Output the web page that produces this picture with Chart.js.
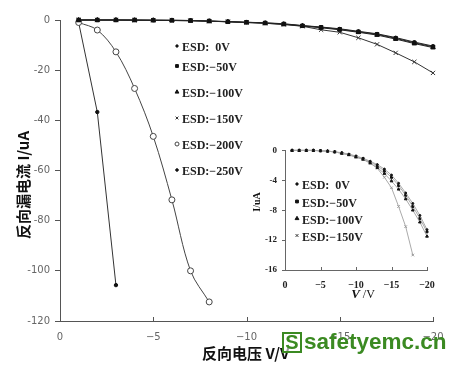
<!DOCTYPE html>
<html>
<head>
<meta charset="utf-8">
<script src="https://cdn.jsdelivr.net/npm/chart.js@4.4.0/dist/chart.umd.min.js"></script>
<style>
  body { margin: 0; background: #fff; }
  #wrap { position: relative; width: 458px; height: 366px; overflow: hidden; }
  #main { position: absolute; left: 0; top: 0; }
  #inset { position: absolute; left: 240px; top: 140px; }
  #markBox { position: absolute; left: 282px; top: 332px; width: 16px; height: 17px;
    border: 2.5px solid #3b8a22; color: #3b8a22; font: bold 20px "Liberation Sans", Arial, sans-serif;
    line-height: 17px; text-align: center; background: rgba(255,255,255,0.6); }
  #markText { position: absolute; left: 304px; top: 331px; color: #3b8a22;
    font: bold 22.5px "Liberation Sans", Arial, sans-serif; line-height: 22.5px; white-space: nowrap; }
</style>
</head>
<body>
<div id="wrap">
  <canvas id="main" width="458" height="366"></canvas>
  <canvas id="inset" width="205" height="165"></canvas>
  <div id="markBox">S</div>
  <div id="markText">safetyemc.cn</div>
</div>
<script>
// reverse voltage (V), one point per volt
const voltage = [-1, -2, -3, -4, -5, -6, -7, -8, -9, -10, -11, -12, -13, -14, -15, -16, -17, -18, -19, -20];

// main chart, leakage current (uA)
const esd0 = [0, 0, 0, 0, -0.1, -0.1, -0.2, -0.4, -0.6, -0.9, -1.1, -1.5, -2.2, -2.8, -3.5, -4.5, -5.5, -7.0, -8.8, -10.4];
const esd50 = [0, 0, 0, 0, -0.1, -0.1, -0.2, -0.4, -0.7, -0.9, -1.2, -1.6, -2.3, -2.9, -3.7, -4.7, -5.7, -7.3, -9.1, -10.7];
const esd100 = [0, 0, 0, -0.1, -0.1, -0.2, -0.3, -0.5, -0.7, -1.0, -1.3, -1.7, -2.4, -3.1, -3.9, -4.9, -6.0, -7.6, -9.4, -11.0];
const esd150 = [0, 0, 0, -0.1, -0.1, -0.2, -0.3, -0.5, -0.7, -1.0, -1.3, -1.8, -2.5, -3.9, -4.9, -7.1, -9.7, -13.1, -16.7, -21.1];
const esd200 = [-1.0, -4.0, -12.7, -27.3, -46.4, -71.7, -100, -112.4];
const esd250 = [-1.0, -36.7, -105.7];

// inset chart, zoomed view of the first four curves
const inset0 = [0, 0, 0, 0, -0.05, -0.1, -0.2, -0.3, -0.5, -0.75, -1.05, -1.45, -1.9, -2.5, -3.3, -4.4, -5.7, -7.1, -8.7, -10.6];
const inset50 = [0, 0, 0, 0, -0.05, -0.1, -0.2, -0.35, -0.55, -0.8, -1.1, -1.55, -2.05, -2.75, -3.6, -4.7, -6.0, -7.5, -9.1, -10.9];
const inset100 = [0, 0, 0, 0, -0.05, -0.1, -0.2, -0.4, -0.6, -0.9, -1.2, -1.7, -2.3, -3.1, -4.1, -5.2, -6.5, -8.0, -9.6, -11.5];
const inset150 = [0, 0, 0, 0, -0.05, -0.1, -0.2, -0.4, -0.6, -0.9, -1.2, -1.7, -2.4, -3.6, -5.0, -7.5, -10.2, -14.0];

const esdLabels = ['ESD:  0V', 'ESD:\u221250V', 'ESD:\u2212100V', 'ESD:\u2212150V', 'ESD:\u2212200V', 'ESD:\u2212250V'];

const mainXTicks = [0, -5, -10, -15, -20];
const mainYTicks = [0, -20, -40, -60, -80, -100, -120];
const insetXTicks = [0, -5, -10, -15, -20];
const insetYTicks = [0, -4, -8, -12, -16];

function pts(values) {
  return values.map((v, i) => ({ x: voltage[i], y: v }));
}

const minusLabel = v => (v === 0 ? '0' : '\u2212' + Math.abs(v));

// marker look for each series
const markers = [
  { pointStyle: 'circle', radius: 1.5, fill: '#111', border: '#111' },
  { pointStyle: 'rect', radius: 2.5, fill: '#111', border: '#111' },
  { pointStyle: 'triangle', radius: 2.6, fill: '#111', border: '#111' },
  { pointStyle: 'crossRot', radius: 3, fill: '#333', border: '#333' },
  { pointStyle: 'circle', radius: 3, fill: '#fff', border: '#444' },
  { pointStyle: 'circle', radius: 1.7, fill: '#111', border: '#111' }
];

function series(values, i, lineColor, extra) {
  const m = markers[i];
  return Object.assign({
    label: esdLabels[i],
    data: pts(values),
    showLine: true,
    borderColor: lineColor,
    borderWidth: 1,
    pointStyle: m.pointStyle,
    pointRadius: m.radius,
    pointBackgroundColor: m.fill,
    pointBorderColor: m.border,
    pointBorderWidth: 1,
    clip: false
  }, extra || {});
}

// x ticks of both charts point up into the plot
const inwardTicks = {
  id: 'inwardTicks',
  afterDraw(chart, args, opts) {
    const s = chart.scales.x, ctx = chart.ctx;
    ctx.save();
    ctx.strokeStyle = opts.color || '#555';
    ctx.lineWidth = 1;
    s.ticks.forEach(t => {
      const px = Math.round(s.getPixelForValue(t.value)) + 0.5;
      ctx.beginPath();
      ctx.moveTo(px, s.top);
      ctx.lineTo(px, s.top - (opts.length || 4));
      ctx.stroke();
    });
    ctx.restore();
  }
};

// legend drawn inside the plot, plus axis titles
const notes = {
  id: 'notes',
  afterDraw(chart, args, opts) {
    const ctx = chart.ctx;
    ctx.save();
    opts.rows.forEach((y, i) => {
      const m = markers[i];
      ctx.fillStyle = m.fill;
      ctx.strokeStyle = m.border;
      ctx.lineWidth = 1;
      Chart.helpers.drawPoint(ctx, { pointStyle: m.pointStyle, radius: opts.markRadius[i], borderWidth: 1, rotation: 0 },
        opts.markX, y - opts.raise);
      ctx.fillStyle = '#222';
      ctx.font = opts.font;
      ctx.textBaseline = 'middle';
      ctx.textAlign = 'left';
      ctx.fillText(esdLabels[i], opts.textX, y);
    });
    opts.titles.forEach(t => {
      ctx.save();
      ctx.translate(t.x, t.y);
      ctx.rotate(t.rot || 0);
      ctx.fillStyle = '#111';
      ctx.textBaseline = 'middle';
      ctx.textAlign = t.align || 'center';
      let x0 = 0;
      if (t.parts) {
        let w = 0;
        t.parts.forEach(p => { ctx.font = p.font; w += ctx.measureText(p.text).width; });
        x0 = -w / 2;
        ctx.textAlign = 'left';
        t.parts.forEach(p => { ctx.font = p.font; ctx.fillText(p.text, x0, 0); x0 += ctx.measureText(p.text).width; });
      } else {
        ctx.font = t.font;
        ctx.fillText(t.text, 0, 0);
      }
      ctx.restore();
    });
    ctx.restore();
  }
};

new Chart(document.getElementById('main'), {
  type: 'scatter',
  data: {
    datasets: [
      series(esd0, 0, '#222'),
      series(esd50, 1, '#222'),
      series(esd100, 2, '#222'),
      series(esd150, 3, '#333'),
      series(esd200, 4, '#444', { tension: 0.35 }),
      series(esd250, 5, '#333')
    ]
  },
  options: {
    responsive: false,
    animation: false,
    layout: { padding: { top: 20, right: 25, left: 0, bottom: 0 } },
    scales: {
      x: {
        type: 'linear', min: -20, max: 0, reverse: true,
        afterBuildTicks: s => { s.ticks = mainXTicks.map(v => ({ value: v })); },
        afterFit: s => { s.height = 45; },
        ticks: { callback: minusLabel, color: '#666', padding: 10, font: { family: 'DejaVu Sans', size: 10 } },
        grid: { drawOnChartArea: false, drawTicks: false },
        border: { color: '#555' }
      },
      y: {
        min: -120, max: 0,
        afterBuildTicks: s => { s.ticks = mainYTicks.map(v => ({ value: v })); },
        afterFit: s => { s.width = 60; },
        ticks: { color: '#666', padding: 5, font: { family: 'DejaVu Sans', size: 10 } },
        grid: { drawOnChartArea: false, tickLength: 5, color: '#555' },
        border: { color: '#555' }
      }
    },
    plugins: {
      legend: { display: false },
      tooltip: { enabled: false },
      inwardTicks: { length: 4, color: '#555' },
      notes: {
        rows: [48, 68, 94, 120, 146, 172],
        markX: 177, textX: 182, raise: 2,
        markRadius: [1.2, 2, 2.2, 2, 2, 1.3],
        font: 'bold 12px "Liberation Serif", serif',
        titles: [
          { text: '反向漏电流 I/uA', x: 23, y: 185, rot: -Math.PI / 2, font: 'bold 15px "Noto Sans CJK SC", sans-serif' },
          { text: '反向电压 V/V', x: 202, y: 353, align: 'left', font: 'bold 15px "Noto Sans CJK SC", sans-serif' }
        ]
      }
    }
  },
  plugins: [inwardTicks, notes]
});

const insetLine = '#aaa';
new Chart(document.getElementById('inset'), {
  type: 'scatter',
  data: {
    datasets: [
      series(inset0, 0, insetLine, { pointRadius: 1 }),
      series(inset50, 1, insetLine, { pointRadius: 1.4 }),
      series(inset100, 2, insetLine, { pointRadius: 1.6 }),
      series(inset150, 3, insetLine, { pointRadius: 1.8, pointBorderColor: '#999' })
    ]
  },
  options: {
    responsive: false,
    animation: false,
    layout: { padding: { top: 10, right: 18, left: 0, bottom: 0 } },
    scales: {
      x: {
        type: 'linear', min: -20, max: 0, reverse: true,
        afterBuildTicks: s => { s.ticks = insetXTicks.map(v => ({ value: v })); },
        afterFit: s => { s.height = 35; },
        ticks: { callback: minusLabel, color: '#222', padding: 9, font: { family: 'Liberation Serif', size: 10, weight: 'bold' } },
        grid: { drawOnChartArea: false, drawTicks: false },
        border: { color: '#666' }
      },
      y: {
        min: -16, max: 0,
        afterBuildTicks: s => { s.ticks = insetYTicks.map(v => ({ value: v })); },
        afterFit: s => { s.width = 45; },
        ticks: { color: '#222', padding: 5, font: { family: 'Liberation Serif', size: 9, weight: 'bold' } },
        grid: { drawOnChartArea: false, tickLength: 3, color: '#666' },
        border: { color: '#666' }
      }
    },
    plugins: {
      legend: { display: false },
      tooltip: { enabled: false },
      inwardTicks: { length: 3, color: '#666' },
      notes: {
        rows: [46, 63.5, 80.5, 97.5],
        markX: 57, textX: 62, raise: 2,
        markRadius: [1.2, 2, 2.2, 2],
        font: 'bold 12px "Liberation Serif", serif',
        titles: [
          { text: 'I/uA', x: 17, y: 62, rot: -Math.PI / 2, font: 'bold 10px "Liberation Serif", serif' },
          { x: 123, y: 155, parts: [
            { text: 'V', font: 'italic bold 13px "Liberation Serif", serif' },
            { text: ' /V', font: '12px "Liberation Serif", serif' }
          ] }
        ]
      }
    }
  },
  plugins: [inwardTicks, notes]
});
</script>
</body>
</html>
